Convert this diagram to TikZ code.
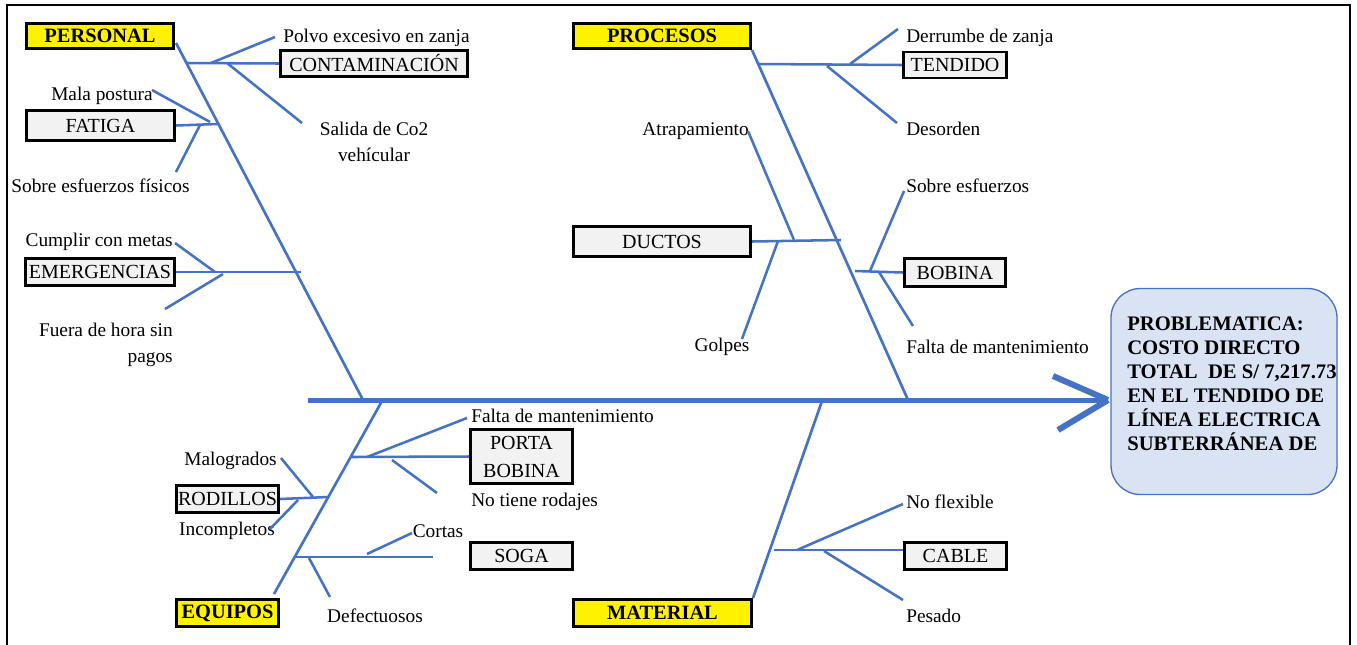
\documentclass[tikz,border=0pt]{standalone}
\usepackage{fontspec}
\setmainfont{Liberation Serif}
\definecolor{bone}{HTML}{4472C4}
\definecolor{boxgray}{HTML}{F2F2F2}
\definecolor{probfill}{HTML}{DAE3F3}

\begin{document}
\begin{tikzpicture}[x=0.75pt,y=-0.75pt]
        \useasboundingbox (0,0) rectangle (1357,644);
        \tikzstyle{every node}=[font=\fontsize{14.5}{20}\selectfont, inner sep=0pt]
        \tikzstyle{label}=[yshift=-1.4pt]
        \tikzstyle{cause}=[draw, line width=2.2pt, fill=yellow, font=\fontsize{15.3}{18}\selectfont\bfseries]
        \tikzstyle{subcause}=[draw, line width=2.2pt, fill=boxgray, font=\fontsize{15}{21}\selectfont]
        \tikzstyle{spine}=[draw=bone, line width=3.75pt]
        \tikzstyle{bone}=[draw=bone, line width=2pt]
        \tikzstyle{twig}=[draw=bone, line width=1.9pt]

        % frame
        \draw[line width=2.2pt] (7,660) -- (7,5) -- (1350,5) -- (1350,660);

        % main causes
        \node[cause, minimum width=110pt, minimum height=19pt] (personal) at (100,36) {PERSONAL};
        \node[cause, minimum width=133pt, minimum height=19pt] (procesos) at (662,36) {PROCESOS};
        \node[cause, minimum width=76.5pt, minimum height=20pt] (equipos) at (227.5,613) {EQUIPOS};
        \node[cause, minimum width=133.5pt, minimum height=20pt] (material) at (662.5,613) {MATERIAL};

        % sub causes
        \node[subcause, minimum width=140pt, minimum height=19.5pt] (contam) at (374,63.5) {CONTAMINACIÓN};
        \node[subcause, minimum width=111pt, minimum height=22.5pt] (fatiga) at (100.5,125.5) {FATIGA};
        \node[subcause, minimum width=112pt, minimum height=20pt] (emerg) at (100,272) {EMERGENCIAS};
        \node[subcause, minimum width=77pt, minimum height=19.5pt] (tendido) at (955,65) {TENDIDO};
        \node[subcause, minimum width=133pt, minimum height=22.5pt] (ductos) at (662,241.5) {DUCTOS};
        \node[subcause, minimum width=76pt, minimum height=21pt] (bobina) at (955,272.5) {BOBINA};
        \node[subcause, minimum width=76.5pt, minimum height=40.5pt, align=center] (porta) at (521.5,456.5) {PORTA\\BOBINA};
        \node[subcause, minimum width=76.5pt, minimum height=20pt] (rodillos) at (227.5,499) {RODILLOS};
        \node[subcause, minimum width=76.5pt, minimum height=20pt] (soga) at (521.5,556) {SOGA};
        \node[subcause, minimum width=76.5pt, minimum height=20pt] (cable) at (955.5,556) {CABLE};

        % labels
        \node[label, anchor=west] (polvo) at (283,36) {Polvo excesivo en zanja};
        \node[label, align=center] (salida) at (374,140) {Salida de Co2\\vehícular};
        \node[label, anchor=east] (postura) at (153,94) {Mala postura};
        \node[label] (fisicos) at (100.5,184) {Sobre esfuerzos físicos};
        \node[label, anchor=east] (metas) at (173,240) {Cumplir con metas};
        \node[label, anchor=east, align=right] (fuera) at (173,343) {Fuera de hora sin\\pagos};
        \node[label, anchor=west] (derrumbe) at (906,36) {Derrumbe de zanja};
        \node[label, anchor=west] (desorden) at (906,127) {Desorden};
        \node[label, anchor=east] (atrapa) at (749,129) {Atrapamiento};
        \node[label] (golpes) at (722,345) {Golpes};
        \node[label, anchor=west] (esfuerzos) at (906,184) {Sobre esfuerzos};
        \node[label, anchor=west] (faltab) at (906,345) {Falta de mantenimiento};
        \node[label, anchor=west] (faltap) at (471,414) {Falta de mantenimiento};
        \node[label, anchor=west] (rodajes) at (471,500) {No tiene rodajes};
        \node[label, anchor=east] (malog) at (277,459) {Malogrados};
        \node[label] (incomp) at (227,529) {Incompletos};
        \node[label] (cortas) at (438,529) {Cortas};
        \node[label] (defect) at (375,614) {Defectuosos};
        \node[label, anchor=west] (flexible) at (906,500) {No flexible};
        \node[label, anchor=west] (pesado) at (906,614) {Pesado};

        % problem
        \node[draw=bone, line width=1pt, fill=probfill, rounded corners=22pt,
              minimum width=169.5pt, minimum height=154.5pt] (problem) at (1224,391.5) {};
        \node[anchor=north west, align=left, font=\fontsize{15.5}{18}\selectfont\bfseries] (problabel) at (1127,317)
              {PROBLEMATICA:\\COSTO DIRECTO\\TOTAL\ \ DE S/ 7,217.73\\EN EL TENDIDO DE\\LÍNEA ELECTRICA\\SUBTERRÁNEA DE};

        % spine and head
        \coordinate (tail) at (308,400);
        \coordinate (head) at (1108,400);
        \coordinate (headup) at (1053,376);
        \coordinate (headdown) at (1058,430);
        \draw[spine] (tail) -- (head);
        \draw[draw=bone, line width=4.5pt] (headup) -- (head);
        \draw[draw=bone, line width=4.5pt] (headdown) -- (head);

        % main bones
        \coordinate (pstart) at (176,43);  \coordinate (pend) at (363,400);
        \coordinate (rstart) at (752,50);  \coordinate (rend) at (908,400);
        \coordinate (estart) at (274,594); \coordinate (eend) at (382,401);
        \coordinate (mstart) at (753,598); \coordinate (mend) at (822,401);
        \draw[bone] (pstart) -- (pend);
        \draw[bone] (rstart) -- (rend);
        \draw[bone] (estart) -- (eend);
        \draw[bone] (mstart) -- (mend);

        % personal
        \coordinate (c0) at (187,63);
        \coordinate (c1) at (211,63);  \coordinate (c2) at (275,37);
        \coordinate (c3) at (227,63);  \coordinate (c4) at (302,123);
        \draw[twig] (c0) -- (contam.west);
        \draw[twig] (c1) -- (c2);
        \draw[twig] (c3) -- (c4);
        \coordinate (f0) at (217,124);
        \coordinate (f1) at (152,90);  \coordinate (f2) at (210,122);
        \coordinate (f3) at (200,125); \coordinate (f4) at (176,172);
        \draw[twig] (fatiga.east) -- (f0);
        \draw[twig] (f1) -- (f2);
        \draw[twig] (f3) -- (f4);
        \coordinate (m0) at (301,272);
        \coordinate (m1) at (175,243); \coordinate (m2) at (215,272);
        \coordinate (m3) at (223,274); \coordinate (m4) at (165,309);
        \draw[twig] (emerg.east) -- (m0);
        \draw[twig] (m1) -- (m2);
        \draw[twig] (m3) -- (m4);

        % procesos
        \coordinate (t0) at (758,64);
        \coordinate (t1) at (850,64);  \coordinate (t2) at (898,29);
        \coordinate (t3) at (827,66);  \coordinate (t4) at (897,123);
        \draw[twig] (t0) -- (tendido.west);
        \draw[twig] (t1) -- (t2);
        \draw[twig] (t3) -- (t4);
        \coordinate (d0) at (841,240);
        \coordinate (d1) at (794,240); \coordinate (d2) at (748,131);
        \coordinate (d3) at (778,241); \coordinate (d4) at (742,339);
        \draw[twig] (ductos.east) -- (d0);
        \draw[twig] (d1) -- (d2);
        \draw[twig] (d3) -- (d4);
        \coordinate (b0) at (855,271);
        \coordinate (b1) at (870,271); \coordinate (b2) at (904,191);
        \coordinate (b3) at (879,272); \coordinate (b4) at (913,326);
        \draw[twig] (b0) -- (bobina.west);
        \draw[twig] (b1) -- (b2);
        \draw[twig] (b3) -- (b4);

        % equipos
        \coordinate (q0) at (352,457);
        \coordinate (q1) at (367,457); \coordinate (q2) at (467,418);
        \coordinate (q3) at (392,460); \coordinate (q4) at (437,493);
        \draw[twig] (q0) -- (porta.west);
        \draw[twig] (q1) -- (q2);
        \draw[twig] (q3) -- (q4);
        \coordinate (o0) at (328,497);
        \coordinate (o1) at (313,497); \coordinate (o2) at (281,458);
        \coordinate (o3) at (298,500); \coordinate (o4) at (270,529);
        \draw[twig] (rodillos.east) -- (o0);
        \draw[twig] (o1) -- (o2);
        \draw[twig] (o3) -- (o4);
        \coordinate (s0) at (295,557);  \coordinate (s5) at (433,557);
        \coordinate (s1) at (367,554); \coordinate (s2) at (412,533);
        \coordinate (s3) at (309,558); \coordinate (s4) at (330,597);
        \draw[twig] (s0) -- (s5);
        \draw[twig] (s1) -- (s2);
        \draw[twig] (s3) -- (s4);

        % material
        \coordinate (k0) at (774,550);  \coordinate (k5) at (903,550);
        \coordinate (k1) at (797,550); \coordinate (k2) at (903,504);
        \coordinate (k3) at (824,551); \coordinate (k4) at (903,600);
        \draw[twig] (k0) -- (k5);
        \draw[twig] (k1) -- (k2);
        \draw[twig] (k3) -- (k4);
\end{tikzpicture}
\end{document}
